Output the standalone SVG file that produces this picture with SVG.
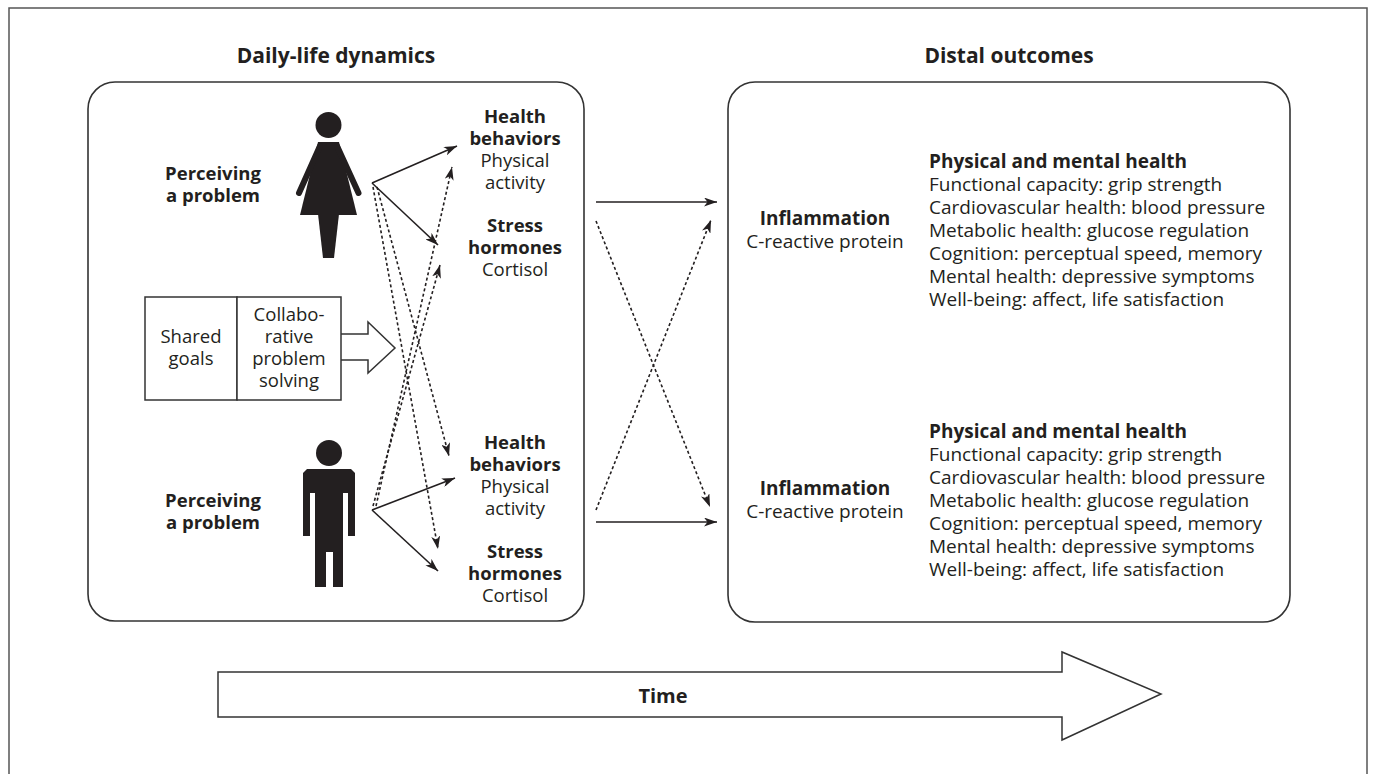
<svg xmlns="http://www.w3.org/2000/svg" width="1375" height="774" viewBox="0 0 1375 774">
<style>
text{font-family:"Open Sans","Noto Sans","Liberation Sans",sans-serif;fill:#231f20}
.t{font-size:21px;font-weight:bold;text-anchor:middle}
.b{font-size:18.5px;font-weight:bold;text-anchor:middle}
.r{font-size:18.5px;text-anchor:middle}
.rb{font-size:19px;font-weight:bold}
.rr{font-size:19px}
.box{fill:none;stroke:#333;stroke-width:1.6}
.fig{fill:#231f20}
.sol{stroke:#231f20;stroke-width:1.6;fill:none}
.dot{stroke:#231f20;stroke-width:1.6;fill:none;stroke-dasharray:3 2.5}
.blk{fill:#fff;stroke:#333;stroke-width:1.5}
</style>
<defs>
<marker id="ah" viewBox="0 0 13 9" refX="13" refY="4.5" markerWidth="13" markerHeight="9" markerUnits="userSpaceOnUse" orient="auto">
<path d="M0,0 L13,4.5 L0,9 L3.5,4.5 Z" fill="#231f20"/>
</marker>
</defs>
<rect id="frame" x="9" y="8" width="1358" height="800" fill="none" stroke="#555" stroke-width="1.5"/>
<g id="title-left"><text class="t" x="336" y="63">Daily-life dynamics</text></g>
<g id="title-right"><text class="t" x="1009" y="63">Distal outcomes</text></g>
<g id="box-left"><rect class="box" x="88" y="82" width="496" height="539" rx="27"/></g>
<g id="box-right"><rect class="box" x="728" y="82" width="562" height="540" rx="27"/></g>

<g id="woman-label"><text class="b" x="213" y="180">Perceiving</text><text class="b" x="213" y="202">a problem</text></g>
<g id="woman">
<circle class="fig" cx="328.5" cy="125" r="13"/>
<polygon class="fig" points="318,142 339,142 357,215 300,215"/>
<line x1="320" y1="146" x2="299" y2="193" stroke="#231f20" stroke-width="6" stroke-linecap="round"/>
<line x1="337" y1="146" x2="358.5" y2="193" stroke="#231f20" stroke-width="6" stroke-linecap="round"/>
<polygon class="fig" points="318,214 339,214 334,258 323,258"/>
</g>
<g id="woman-outcomes">
<text class="b" x="515" y="123">Health</text><text class="b" x="515" y="145">behaviors</text>
<text class="r" x="515" y="167">Physical</text><text class="r" x="515" y="189">activity</text>
<text class="b" x="515" y="232">Stress</text><text class="b" x="515" y="254">hormones</text>
<text class="r" x="515" y="276">Cortisol</text>
</g>

<g id="shared">
<rect class="blk" x="145" y="297" width="92" height="103"/>
<text class="r" x="191" y="343">Shared</text><text class="r" x="191" y="365">goals</text>
</g>
<g id="collab">
<polyline class="blk" points="341,334 368,334 368,322 395,348 368,373 368,360 341,360"/>
<rect class="blk" x="237" y="297" width="104" height="103"/>
<text class="r" x="289" y="321">Collabo-</text><text class="r" x="289" y="343">rative</text>
<text class="r" x="289" y="365">problem</text><text class="r" x="289" y="387">solving</text>
</g>

<g id="man-label"><text class="b" x="213" y="507">Perceiving</text><text class="b" x="213" y="529">a problem</text></g>
<g id="man">
<circle class="fig" cx="329" cy="453" r="13"/>
<polygon class="fig" points="307,469 351,469 355,473 355,536 348,536 348,493 343,493 343,587 333,587 333,552 326,552 326,587 315,587 315,493 310,493 310,536 303,536 303,473"/>
</g>
<g id="man-outcomes">
<text class="b" x="515" y="449">Health</text><text class="b" x="515" y="471">behaviors</text>
<text class="r" x="515" y="493">Physical</text><text class="r" x="515" y="515">activity</text>
<text class="b" x="515" y="558">Stress</text><text class="b" x="515" y="580">hormones</text>
<text class="r" x="515" y="602">Cortisol</text>
</g>

<g id="inflammation-top"><text class="rb" x="825" y="225" text-anchor="middle">Inflammation</text><text class="rr" x="825" y="248" text-anchor="middle">C-reactive protein</text></g>
<g id="health-top">
<text class="rb" x="929" y="168">Physical and mental health</text>
<text class="rr" x="929" y="191">Functional capacity: grip strength</text>
<text class="rr" x="929" y="214">Cardiovascular health: blood pressure</text>
<text class="rr" x="929" y="237">Metabolic health: glucose regulation</text>
<text class="rr" x="929" y="260">Cognition: perceptual speed, memory</text>
<text class="rr" x="929" y="283">Mental health: depressive symptoms</text>
<text class="rr" x="929" y="306">Well-being: affect, life satisfaction</text>
</g>
<g id="inflammation-bottom"><text class="rb" x="825" y="495" text-anchor="middle">Inflammation</text><text class="rr" x="825" y="518" text-anchor="middle">C-reactive protein</text></g>
<g id="health-bottom">
<text class="rb" x="929" y="438">Physical and mental health</text>
<text class="rr" x="929" y="461">Functional capacity: grip strength</text>
<text class="rr" x="929" y="484">Cardiovascular health: blood pressure</text>
<text class="rr" x="929" y="507">Metabolic health: glucose regulation</text>
<text class="rr" x="929" y="530">Cognition: perceptual speed, memory</text>
<text class="rr" x="929" y="553">Mental health: depressive symptoms</text>
<text class="rr" x="929" y="576">Well-being: affect, life satisfaction</text>
</g>

<g id="time">
<polygon class="blk" points="218,672 1062,672 1062,652 1161,694 1062,740 1062,717 218,717"/>
<text class="b" x="663" y="703" style="font-size:20px">Time</text>
</g>

<g id="connectors">
<line class="sol" x1="372" y1="183" x2="457" y2="146" marker-end="url(#ah)"/>
<line class="sol" x1="372" y1="183" x2="438" y2="245" marker-end="url(#ah)"/>
<line class="sol" x1="372" y1="510" x2="455" y2="478" marker-end="url(#ah)"/>
<line class="sol" x1="372" y1="510" x2="438" y2="571" marker-end="url(#ah)"/>
<line class="dot" x1="377" y1="187" x2="449" y2="456" marker-end="url(#ah)"/>
<line class="dot" x1="373" y1="187" x2="438" y2="549" marker-end="url(#ah)"/>
<line class="dot" x1="373" y1="506" x2="440" y2="265" marker-end="url(#ah)"/>
<line class="dot" x1="376" y1="506" x2="452" y2="167" marker-end="url(#ah)"/>
<line class="sol" x1="596" y1="202" x2="717" y2="202" marker-end="url(#ah)"/>
<line class="dot" x1="596" y1="221" x2="710" y2="507" marker-end="url(#ah)"/>
<line class="dot" x1="596" y1="510" x2="711" y2="220" marker-end="url(#ah)"/>
<line class="sol" x1="596" y1="522" x2="717" y2="522" marker-end="url(#ah)"/>
</g>
</svg>
